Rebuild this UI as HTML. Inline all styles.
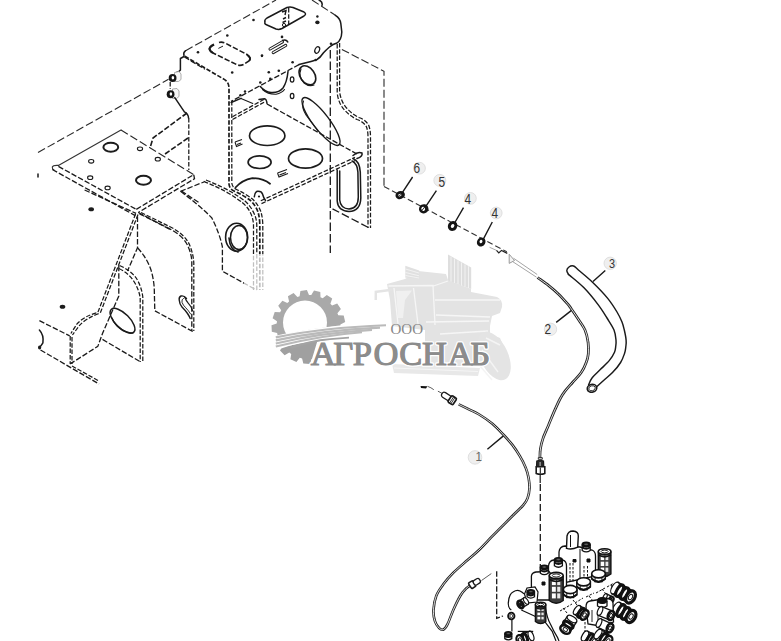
<!DOCTYPE html>
<html><head><meta charset="utf-8">
<style>
html,body{margin:0;padding:0;background:#fff;}
body{width:781px;height:641px;overflow:hidden;position:relative;font-family:"Liberation Sans",sans-serif;}
svg{position:absolute;left:0;top:0;}
.s{fill:none;stroke:#1a1a1a;stroke-width:1.5;stroke-linecap:round;stroke-linejoin:round;}
.d{fill:none;stroke:#1a1a1a;stroke-width:1.3;stroke-dasharray:5.5 2;}
.d2{fill:none;stroke:#1a1a1a;stroke-width:1.25;stroke-dasharray:4.5 1.8;}
.dl{fill:none;stroke:#2a2a2a;stroke-width:1.1;stroke-dasharray:8 3;}
.t{fill:none;stroke:#1c1c1c;stroke-width:0.8;}
.h{fill:#1c1c1c;}
.o{fill:none;stroke:#1c1c1c;stroke-width:1.2;}
</style></head><body>
<svg width="781" height="641" viewBox="0 0 781 641">
<!-- ===== FRAME: top bracket ===== -->
<g id="bracket">
<path class="dl" d="M185.6,50.7 L276,0"/>
<path class="s" d="M185.6,50.7 Q183,52.5 184,55.5"/>
<path class="d2" style="stroke-width:1.7" d="M184.8,56.2 L224.6,79.6 Q229,82.5 229,88 L229,184 Q229.5,189 234,191 Q244,195.5 250.5,200.5 Q256,206 258,212 Q259.8,218 259.8,226 L259.8,290"/>

<path class="d2" d="M231.8,101 L231.8,183 Q232.3,187.5 236.5,189.5 Q246,194 252.5,199 Q258.5,205 260.8,211.5 Q262.8,218 262.8,226 L262.8,290"/>
<!-- top plate right side -->
<path class="dl" d="M312,0 L335.4,15.3"/>
<path class="s" d="M335.4,15.3 Q340,18 340.8,23.3 L341.8,32 Q341.5,40 337,43 Q333,44 329.5,47 Q326,50 323.3,53 Q320,58 317,59.5 Q313,61 311,61.5 L299,64.6"/>
<path class="s" d="M319,0 Q323,2 322,5.4"/>
<path class="d" d="M299,64.6 L231.1,101.4"/>
<path class="s" d="M231.1,102.5 L241,98.4"/>
<!-- slots -->
<path d="M219,42.5 Q222,41.5 226,43.5 L247,54.5 Q251.5,57.5 249,61 L243.5,64.5 Q240,66.2 236.5,64.5 L214,53.5 Q209,51 209.5,48.5 Q210.5,46 214,44.5" fill="none" stroke="#1a1a1a" stroke-width="1.6" stroke-dasharray="5.5 2"/>
<path d="M214,44.5 Q210,46.5 209.5,48.5 Q209.5,51 213,53 M247,55 Q251.5,57.5 249.5,60.5" fill="none" stroke="#1a1a1a" stroke-width="2"/>
<path d="M218.4,48.4 L223,46.1" fill="none" stroke="#1a1a1a" stroke-width="1"/>
<path class="s" d="M265,22 Q264,20 267,18 L287,7.5 Q290,6.5 293,7.5 L304,12 Q307,14 304,16 L282,28.5 Q279,30 276,29 L267,25 Q264,24 265,22 Z"/>
<path class="d2" d="M288.7,8 L288.7,26"/>
<path d="M282,12 L286,10.5 L285,15 M283,19 L286,17.5 M282.5,22.5 L286,21" fill="none" stroke="#1a1a1a" stroke-width="1.4"/>
<circle cx="284" cy="25" r="1.6" fill="none" stroke="#1a1a1a" stroke-width="1"/>
<path d="M270,49 L282.5,41.8 M273.2,52.6 L285.7,45.4" fill="none" stroke="#1a1a1a" stroke-width="3.1" stroke-linecap="round"/>
<path d="M270,49 L282.5,41.8 M273.2,52.6 L285.7,45.4" fill="none" stroke="#fff" stroke-width="1.2" stroke-linecap="round"/>
<path d="M282,40.5 Q286.5,38.8 288,42.5" fill="none" stroke="#1a1a1a" stroke-width="1.6"/>
<!-- holes / dots -->
<g class="h">
<circle cx="198" cy="52.3" r="1.3"/><circle cx="227.3" cy="35.5" r="1.3"/><circle cx="253.5" cy="20" r="1.3"/>
<circle cx="262" cy="55.6" r="1.3"/><circle cx="232.2" cy="72.5" r="1.3"/><circle cx="282" cy="36.9" r="1.3"/>
<circle cx="317.4" cy="16.5" r="1.2"/><ellipse cx="317.4" cy="22.4" rx="2.2" ry="1.8"/>
<circle cx="292.6" cy="62.3" r="1.3"/><circle cx="278.8" cy="70.7" r="1.3"/><circle cx="268.8" cy="72.3" r="1.3"/><circle cx="270.3" cy="78.9" r="1.3"/>
<circle cx="260.3" cy="82.5" r="1.3"/><circle cx="245" cy="91.5" r="1.2"/><circle cx="240.4" cy="95.3" r="1.2"/>
<circle cx="315.7" cy="60" r="1.2"/><circle cx="331" cy="43.8" r="1.3"/><circle cx="261.9" cy="56.1" r="1.1"/>
</g>
<ellipse class="s" cx="292.1" cy="79.5" rx="1.8" ry="2.7" style="stroke-width:1.2"/>
<ellipse class="s" cx="292.1" cy="96" rx="1.8" ry="2.7" style="stroke-width:1.2"/>
<ellipse class="s" cx="317.2" cy="50" rx="2.2" ry="3.4" transform="rotate(25 317.2 50)" style="stroke-width:1.2"/>
<!-- semicircle hole (lower half) -->
<path class="s" d="M260.3,86.5 Q265,92 271,92.5 Q279,93 283,88 Q287,82 288,71.5"/>
<path class="s" d="M262.5,89.5 Q268,94.5 276,94.2 Q282,93 284.5,89.5" style="stroke-width:1.1"/>
<!-- big hole on front face -->
<ellipse class="s" cx="307.4" cy="75.3" rx="7.2" ry="10.4" transform="rotate(-35 307.4 75.3)" style="stroke-width:1.6"/>
<path class="s" d="M301,69 Q298,76 304,83 Q309,87 314,85" style="stroke-width:1.1"/>
<!-- elongated hole -->
<ellipse class="s" cx="321" cy="121.5" rx="29.5" ry="8" transform="rotate(52.5 321 121.5)" style="stroke-width:1.4"/>
<path class="s" d="M303.5,101 Q301,107 306,115 L318,131" style="stroke-width:1.1"/>
<!-- right vertical double line / rear plate outline -->
<path class="d2" d="M337.2,44 L337.2,93 Q338.5,104 345,110.5 Q350,116 357,119.5 Q364,122 366.5,127 Q368,131 368,137 L368,228"/>
<path class="d2" d="M339.6,43 L339.6,92 Q341,102 347,108.5 Q352,114 359,117.5 Q366,120 368.8,125.5 Q370.5,130 370.5,137 L370.5,228"/>
<path class="d" d="M330.3,50 L330.3,253" style="stroke-dasharray:8.5 3"/>
<path class="dl" d="M341.9,49.4 L384,71.3 L384,186.5"/>
<path class="d" d="M368.4,227.5 L332.5,208.8" style="stroke-dasharray:8 3"/>
<path class="s" d="M337.2,170 L337.2,201 Q338,211 349,211.5 Q360.5,211 360.8,198 L360.3,172 Q359.5,161 353,158.5"/>
<path class="s" d="M339.7,171 L339.7,200 Q340.5,208.5 349,209 Q358.3,208.5 358.3,197 L357.9,172 Q357.3,163.5 352,161"/>
<!-- shelf -->
<path class="s" d="M241,98.4 L252.8,103.4" style="stroke-width:1.1"/>
<path class="s" d="M259,99.5 L264.5,98.7 Q266.5,99 267,103.4"/>
<path class="d2" d="M232.5,116.7 L263.75,99.5"/>
<path class="d2" d="M232.5,119.5 L264.5,102"/>
<path class="d" d="M267,104 L357,154"/>
<path class="s" d="M353,155.5 Q358,151 362,153 Q363,156.5 357,158.5"/>
<path class="d2" d="M260.8,200.8 L355,157.4"/>
<path class="d2" d="M261.5,203.6 L356,160.2"/>
<ellipse class="o" cx="267.2" cy="135.7" rx="17.7" ry="9.8" style="stroke-width:1.7"/>
<ellipse class="o" cx="259.6" cy="162.2" rx="11.5" ry="6.3" style="stroke-width:1.7"/>
<ellipse class="o" cx="305.5" cy="158.5" rx="17" ry="9.6" style="stroke-width:1.7"/>
<path class="s" d="M235.5,187.5 Q242,180 252.4,178.1 Q263.6,178.5 270,183.7" style="stroke-width:1.8"/>
<path class="s" d="M254.3,196.8 Q255,191.5 257.6,191.2 Q261.7,191 262.5,194 Q263.6,198 265.5,200.5"/>
<circle cx="259" cy="196.5" r="1.1" fill="#1a1a1a"/>

<path d="M235,142 L242,139.5 M235,142 L236.5,146.5 L242.5,144 M237,144.5 L241,143" fill="none" stroke="#1a1a1a" stroke-width="1.1"/>
<path d="M277.5,173 L287,169.5 M277.5,173 L279,177 L288,173.5 M279.5,175 L286,172.5" fill="none" stroke="#1a1a1a" stroke-width="1.1"/>
</g>

<!-- ===== left nuts and connection ===== -->
<g id="leftnuts">
<path class="dl" d="M38,152.5 L168.5,79.3"/>
<path class="s" d="M184,56.5 L180.4,58.5 L180.4,70 Q179,72 176.5,72.5"/>
<path d="M174.5,72.5 L179,71.5 L181,74 L181,79.5 L178.5,81.5 L174.5,81.5 Z" fill="#f7f7f7" stroke="#999" stroke-width="0.8"/>
<path d="M172.5,89 L177,88.5 L179,91 L179,96.5 L176.5,98.5 L172.5,98.5 Z" fill="#f7f7f7" stroke="#999" stroke-width="0.8"/>
<ellipse cx="172.6" cy="78" rx="3.9" ry="4" fill="#151515"/><ellipse cx="172.9" cy="77.8" rx="1.3" ry="1.7" fill="#fff"/>
<ellipse cx="170.6" cy="94.2" rx="3.9" ry="4" fill="#151515"/><ellipse cx="170.9" cy="94" rx="1.3" ry="1.7" fill="#fff"/>
<path class="d2" d="M170.2,82 L170.2,89"/>
<path class="s" d="M174.8,97.6 L184.4,111.8 Q188.5,114 188.5,118"/>
<path class="d2" d="M188.8,118 L188.8,170"/>
<path class="d" d="M187,113 L153,138 L150,148" style="stroke-width:1.6"/>
<path class="d" d="M188,138 L165,154" style="stroke-width:1.6"/>
<path class="d" d="M184.4,57 L205,69.2"/>
</g>

<!-- ===== left shelf plate ===== -->
<g id="plate">
<path class="s" d="M121,130 L58.4,165.4 Q53,165 52.3,167 Q52,169 54,170" style="stroke-width:1.1;stroke:#333"/>
<path class="dl" d="M121,130 L193.7,174.6"/>
<path class="d" d="M58.4,166.4 L136.3,209.4"/>
<path class="d" d="M52.3,169.5 L135.3,215.6"/>
<path class="d" d="M136.3,209.4 L193.7,174.6 L194.5,178.7 L138.3,212.5"/>
<ellipse class="o" cx="110.8" cy="147.2" rx="7.4" ry="4.5" style="stroke-width:2"/>
<ellipse class="o" cx="143.5" cy="180.3" rx="7.5" ry="4.5" style="stroke-width:2"/>
<g class="s" style="stroke-width:1.1">
<ellipse cx="140" cy="148.8" rx="2.6" ry="1.8"/><ellipse cx="157.8" cy="159.2" rx="2.6" ry="1.8"/>
<ellipse cx="91.2" cy="161.3" rx="2.6" ry="1.8"/><ellipse cx="90.2" cy="177.7" rx="2.6" ry="1.8"/>
<ellipse cx="107.6" cy="187.9" rx="2.6" ry="1.8"/>
</g>
<path class="s" d="M38,174 L38,177"/>
</g>
<g id="frame">
<ellipse class="h" cx="91.2" cy="209.3" rx="2.8" ry="2"/>
<ellipse class="h" cx="62.5" cy="306.8" rx="2.8" ry="2"/>
<!-- beam edges under plate -->
<path class="d" d="M84.6,190 L136.1,213.4"/>
<path class="d" d="M138.3,212.5 L171,230"/>
<path class="d" d="M139.5,213.8 L168.8,228.4 Q184,236 188.3,246.9 Q191.8,255 191.8,262.5 L191.8,331"/>
<path class="d2" d="M141,212.5 L170.5,227 Q186,235 190,246 Q193.5,255 193.8,263 L193.8,331"/>
<path class="d" d="M181.4,191 L200,203.3"/>
<!-- upright A -->
<path class="d2" d="M135.6,213.8 L97.8,312.5 Q84,316 76.8,324.2 L70.9,333.5"/>
<path class="d2" d="M138,214.5 L100.3,313 Q86,318 79,326 L72.5,335"/>
<path class="d" d="M137.5,216.5 L137.5,247.7 L127.5,271"/>
<path class="d" d="M118.8,265.7 L118.8,296 L102.5,333.5 L97.8,346.4 L70.2,363.9"/>
<path class="d2" d="M119.5,265.5 Q131,270.5 136.5,278.5 Q141.5,286.5 142.8,297 L142.8,362"/>
<path class="d2" d="M119,268.5 Q129,273.5 134,281.5 Q139.2,290 140.2,298 L140.2,362"/>
<path class="d" d="M102.5,339.4 L140,361.6"/>
<ellipse class="s" cx="122.5" cy="320.8" rx="16" ry="7.2" transform="rotate(45 122.5 320.8)"/>
<path class="s" d="M112,318 Q118,332 133,333" style="stroke-width:1.2"/>
<!-- upright B inner -->
<path class="d" d="M137.5,247.7 Q147,258 151,270 Q154,280 154.3,290 L154.8,310.8 L192.8,331.5"/>
<path class="s" d="M186.5,298.5 Q184,295.3 181,296 Q178.8,297 179.2,300 Q179.5,304 182,307 Q185,310 187.5,313.5 Q189.5,316.5 190.2,318.5" style="stroke-width:1.4"/>
<path class="s" d="M183.5,298.3 Q181.3,299.5 182,302.3 Q183,305.2 185.8,307.8 Q188.6,310.6 190.6,314" style="stroke-width:0.9"/>
<path class="s" d="M184.8,297.2 Q186,300.5 188.2,303.2 Q191,306 192.6,310.8" style="stroke-width:1.2"/>
<!-- left box -->
<path class="d" d="M39.4,320.7 L69.7,335.9"/>
<path class="d2" d="M70.2,336 L70.2,364"/>
<path class="d2" d="M72,337 L72,364"/>
<path class="s" d="M39.4,330 Q44,335 42.9,342.9 Q41,346 39.4,347.6"/>
<ellipse class="h" cx="39.6" cy="347.5" rx="1.6" ry="2"/>
<path class="d" d="M40.5,350 L99,384"/>
<path class="d2" d="M72,366 L99,381"/>
<!-- upright C -->
<path class="d" d="M180.5,191.3 L203.9,182"/>

<path class="d" d="M180.5,191.3 Q198,204 211.7,217.7 Q219.5,233 222.4,246.9 L222.4,271.3 L256.5,290"/>
<path class="d2" d="M203.7,181.4 Q220,188 228,193 Q238,199 242,202.4 Q247,206.5 249.5,211 Q253.5,218 253.5,226 L253.5,290"/>
<path class="d2" d="M206,180 Q222,186.5 230.5,191.5 Q240.5,197.5 245,201 Q250,205.5 252.5,210.5 Q256.8,217.5 256.8,226 L256.8,290"/>
<ellipse class="s" cx="236.6" cy="237.2" rx="11" ry="14" style="stroke-width:1.6"/>
<ellipse class="s" cx="239" cy="237.5" rx="8.5" ry="12"/>
<path class="s" d="M229,238 Q230,250 238,252" style="stroke-width:1.6"/>
</g>

<g id="logo">
<rect x="244" y="254" width="272" height="133" fill="#fff" opacity="0.72"/>
<defs>
<clipPath id="cup"><path d="M260,250 L400,250 L400,323.5 L385,323.5 Q320,325 276,336.5 L260,342 Z"/></clipPath>
<clipPath id="clow"><path d="M260,349.5 L278,349.5 Q300,342 318,339 L309.5,367 L300,380 L260,380 Z"/></clipPath>
</defs>
<g stroke="none">
<path d="M387,284 L405,279 L418,271 L446,274 L448,280 L471,289 L471,292 L497,297 Q503,300 502,307 L500,313 L492,316 L490,326 L490,334 L500,338 L505,350 L488,366 L425,366 L425,330 L392,326 L390,300 Z" fill="#e3e3e3"/>
<path d="M448,254.6 L471.2,267.6 L471.2,289 L448,280.6 Z" fill="#dedede"/>
<path d="M451,256.5 L451,281.5 M454.5,258.5 L454.5,283 M458,260.5 L458,284.2 M461.5,262.5 L461.5,285.5 M465,264.5 L465,286.8 M468.5,266.2 L468.5,288" stroke="#f2f2f2" stroke-width="1"/>
<path d="M405.3,265.8 L419.2,270.4 L419,278.5 L405.3,277.8 Z" fill="#e0e0e0"/>
<path d="M405.5,269 L419,273 M405.5,272.5 L419,275.8 M405.5,275.5 L419,278" stroke="#f4f4f4" stroke-width="0.9"/>
<path d="M374.6,290.8 L392,288.5 L392,291 L377,293 L377,300 L374.5,300 Z" fill="#e4e4e4"/>
<path d="M388.5,286 L433,285.5 L435,325 M394,288 L398,324 M413.5,288 L418,324 M433.5,286 L448,281 M435,300 L500,300 M436,315 L490,317 M426,322 L489,321 M440,334 L488,331" stroke="#f6f6f6" stroke-width="1.3" fill="none"/>
<path d="M396,291 L412,290.5 L405,300 L403,318 L398,318 Z" fill="#f0f0f0"/>
<ellipse cx="494" cy="356" rx="14" ry="26" fill="#e4e4e4" transform="rotate(-25 494 356)"/>
<path d="M486,338 L500,345 M482,350 L498,372 M480,366 L492,380" stroke="#f4f4f4" stroke-width="1.4"/>
<path d="M392,364 L480,368 L478,376 L394,373 Z" fill="#e8e8e8"/>
<path d="M394,368 L478,371.5" stroke="#f6f6f6" stroke-width="1"/>
</g>
<g clip-path="url(#cup)"><path d="M299.6,296.3 L300.4,290.9 L306.9,290.0 L309.0,295.0 L311.3,295.1 L314.0,290.4 L320.3,291.9 L320.5,297.3 L322.7,298.3 L326.8,294.9 L332.2,298.6 L330.4,303.7 L332.1,305.4 L337.2,303.6 L340.9,309.1 L337.4,313.2 L338.3,315.3 L343.7,315.6 L345.2,322.0 L340.4,324.5 L340.5,326.9 L345.4,329.1 L344.5,335.6 L339.1,336.2 L338.4,338.5 L342.2,342.3 L339.0,348.0 L333.7,346.7 L332.2,348.5 L334.4,353.4 L329.3,357.6 L324.9,354.5 L322.9,355.6 L323.1,361.0 L316.9,363.0 L313.9,358.5 L311.6,358.9 L309.9,364.0 L303.3,363.6 L302.1,358.4 L299.8,357.8 L296.4,362.0 L290.4,359.3 L291.2,353.9 L289.3,352.6 L284.6,355.2 L280.0,350.6 L282.7,345.9 L281.3,343.9 L276.0,344.7 L273.4,338.7 L277.6,335.3 L277.1,333.0 L271.8,331.8 L271.5,325.2 L276.7,323.6 L277.0,321.2 L272.6,318.2 L274.7,312.0 L280.1,312.3 L281.2,310.2 L278.2,305.8 L282.4,300.8 L287.3,303.0 L289.1,301.5 L287.9,296.3 L293.6,293.1 L297.4,297.0 Z" fill="#a9a9a9"/><circle cx="305" cy="322.5" r="22" fill="#fff"/></g>
<g clip-path="url(#clow)"><path d="M299.6,296.3 L300.4,290.9 L306.9,290.0 L309.0,295.0 L311.3,295.1 L314.0,290.4 L320.3,291.9 L320.5,297.3 L322.7,298.3 L326.8,294.9 L332.2,298.6 L330.4,303.7 L332.1,305.4 L337.2,303.6 L340.9,309.1 L337.4,313.2 L338.3,315.3 L343.7,315.6 L345.2,322.0 L340.4,324.5 L340.5,326.9 L345.4,329.1 L344.5,335.6 L339.1,336.2 L338.4,338.5 L342.2,342.3 L339.0,348.0 L333.7,346.7 L332.2,348.5 L334.4,353.4 L329.3,357.6 L324.9,354.5 L322.9,355.6 L323.1,361.0 L316.9,363.0 L313.9,358.5 L311.6,358.9 L309.9,364.0 L303.3,363.6 L302.1,358.4 L299.8,357.8 L296.4,362.0 L290.4,359.3 L291.2,353.9 L289.3,352.6 L284.6,355.2 L280.0,350.6 L282.7,345.9 L281.3,343.9 L276.0,344.7 L273.4,338.7 L277.6,335.3 L277.1,333.0 L271.8,331.8 L271.5,325.2 L276.7,323.6 L277.0,321.2 L272.6,318.2 L274.7,312.0 L280.1,312.3 L281.2,310.2 L278.2,305.8 L282.4,300.8 L287.3,303.0 L289.1,301.5 L287.9,296.3 L293.6,293.1 L297.4,297.0 Z" fill="#a0a0a0"/></g>
<path d="M273.5,342.6 Q322,331.2 386,328.2" fill="none" stroke="#fff" stroke-width="12.5"/>
<path d="M290,347 Q310,339.8 330,338.3 L349,336.8 L349,338.6 L330,340.1 Q312,341.8 292,349 Z" fill="#a3a3a3"/>
<path d="M275.8,337.4 Q322,327.6 386,325.2" fill="none" stroke="#bababa" stroke-width="2.1"/>
<path d="M275.8,340.4 Q322,330.2 380,327.6" fill="none" stroke="#bababa" stroke-width="2.1"/>
<path d="M275.8,343.4 Q322,332.7 372,329.9" fill="none" stroke="#bababa" stroke-width="2.1"/>
<path d="M275.8,346.4 Q322,335.2 362,332.2" fill="none" stroke="#bababa" stroke-width="2.1"/>
<text y="364.9" font-family="Liberation Serif, serif" font-size="34.5" fill="#8c8c8c" stroke="#fff" stroke-width="3.6" paint-order="stroke" stroke-linejoin="round"><tspan x="310.8">А</tspan><tspan x="333.2">Г</tspan><tspan x="352.8">Р</tspan><tspan x="373.4">О</tspan><tspan x="399.2">С</tspan><tspan x="421.9">Н</tspan><tspan x="447.8">А</tspan><tspan x="470.3">Б</tspan></text>
<text y="364.9" font-family="Liberation Serif, serif" font-size="34.5" fill="#8c8c8c" stroke="#8c8c8c" stroke-width="1.1"><tspan x="310.8">А</tspan><tspan x="333.2">Г</tspan><tspan x="352.8">Р</tspan><tspan x="373.4">О</tspan><tspan x="399.2">С</tspan><tspan x="421.9">Н</tspan><tspan x="447.8">А</tspan><tspan x="470.3">Б</tspan></text>
<text x="390.5" y="333.6" font-family="Liberation Serif, serif" font-size="15" fill="#878787">ООО</text>
</g>
<!--LOGOEND-->
<!-- ===== nuts ===== -->
<g id="nuts">
<path d="M384,186.5 L506.8,251.8" fill="none" stroke="#333" stroke-width="1.1" stroke-dasharray="6 3"/>
<path d="M402,193.2 L412.6,177 M425,207.6 L436.4,190.6 M454,224 L463.5,207.6 M482.7,240.3 L492.3,222 M571.2,310.6 L556.2,322.4 M593,281.5 L605.3,270.4 M503.7,435.6 L487.4,449.3" fill="none" stroke="#1a1a1a" stroke-width="1.4"/>
<ellipse cx="400.2" cy="195.1" rx="4.8" ry="4" fill="#151515" transform="rotate(-20 400.2 195.1)"/>
<ellipse cx="399.8" cy="195.2" rx="1.8" ry="1.2" fill="#fff" transform="rotate(-20 399.8 195.2)"/>
<path d="M397,197 L402.5,193.5" stroke="#151515" stroke-width="0.8"/>
<ellipse cx="423.7" cy="208.8" rx="4.8" ry="4.6" fill="#151515" transform="rotate(-30 423.7 208.8)"/>
<ellipse cx="423.2" cy="208.9" rx="1.8" ry="2.1" fill="#fff" transform="rotate(-30 423.2 208.9)"/>
<path d="M421.5,211 L425,206.5" stroke="#151515" stroke-width="0.9"/>
<ellipse cx="452.6" cy="226" rx="3.1" ry="3.6" fill="#fff" stroke="#151515" stroke-width="3" transform="rotate(35 452.6 226)"/>
<ellipse cx="481.2" cy="242" rx="4.2" ry="4.7" fill="#151515" transform="rotate(30 481.2 242)"/>
<ellipse cx="481" cy="241.5" rx="1.4" ry="1.7" fill="#fff" transform="rotate(30 481 241.5)"/>
</g>
<g id="balloons" font-family="Liberation Sans, sans-serif" font-size="14.5" fill="#333">
<g fill="#efefef" stroke="#d6d6d6" stroke-width="0.7">
<circle cx="419.5" cy="168.2" r="5.9"/>
<circle cx="439.8" cy="180.4" r="6"/>
<circle cx="470.4" cy="198.4" r="5.9"/>
<circle cx="496.2" cy="213" r="5.9"/>
<circle cx="550.5" cy="329.3" r="6.2"/>
<circle cx="610.2" cy="263.3" r="6.2"/>
<circle cx="475" cy="457.4" r="6.8"/>
</g>
<text transform="translate(413.4 172.6) scale(0.82 1)">6</text>
<text transform="translate(438.6 187) scale(0.82 1)">5</text>
<text transform="translate(464.6 204) scale(0.82 1)">4</text>
<text transform="translate(491.4 218) scale(0.82 1)">4</text>
<text transform="translate(544.6 334.2) scale(0.82 1)">2</text>
<text transform="translate(609 267.8) scale(0.75 0.85)">3</text>
<text transform="translate(475.6 461.2) scale(0.8 0.85)" fill="#666">1</text>
</g>

<!-- ===== cable 2 ===== -->
<g id="cable2">
<path d="M489.6,247.3 L496.5,250.4" fill="none" stroke="#aaa" stroke-width="1"/>
<path d="M496.5,250.4 L498.8,253 L501.5,250.4 L507.3,253.4" fill="none" stroke="#222" stroke-width="1.2"/>
<path d="M509.2,254.2 L509.2,263.4 L514.5,260.5 Z" fill="#f4f4f4" stroke="#999" stroke-width="1"/>
<path d="M513.5,258.2 L537.2,274.5 M512.5,261.5 L536.5,277.2" fill="none" stroke="#9a9a9a" stroke-width="0.9"/>
<path d="M537.5,277.5 C539.4,278.9 545.3,282.9 548.7,285.6 C552.1,288.3 555.0,290.7 558.1,293.7 C561.2,296.7 565.2,301.2 567.4,303.7 C569.6,306.2 569.3,306.0 571.2,308.7 C573.1,311.4 576.5,316.4 578.8,320.0 C581.0,323.6 583.4,326.2 585.0,330.0 C586.6,333.8 587.6,338.5 588.1,342.5 C588.6,346.5 588.6,350.5 588.3,353.8 C588.0,357.1 587.4,359.4 586.2,362.5 C585.1,365.6 583.5,369.2 581.2,372.5 C579.0,375.8 575.2,379.4 572.5,382.5 C569.8,385.6 567.1,388.5 565.0,391.2 C562.9,394.0 561.8,395.6 560.0,399.0 C558.2,402.4 555.9,407.6 554.0,411.9 C552.1,416.2 550.4,420.6 548.6,425.0 C546.8,429.4 544.5,434.1 543.1,438.1 C541.7,442.1 540.9,445.8 540.4,449.0 C539.9,452.2 540.0,456.2 539.9,457.6" fill="none" stroke="#222" stroke-width="2.7"/>
<path d="M537.5,277.5 C539.4,278.9 545.3,282.9 548.7,285.6 C552.1,288.3 555.0,290.7 558.1,293.7 C561.2,296.7 565.2,301.2 567.4,303.7 C569.6,306.2 569.3,306.0 571.2,308.7 C573.1,311.4 576.5,316.4 578.8,320.0 C581.0,323.6 583.4,326.2 585.0,330.0 C586.6,333.8 587.6,338.5 588.1,342.5 C588.6,346.5 588.6,350.5 588.3,353.8 C588.0,357.1 587.4,359.4 586.2,362.5 C585.1,365.6 583.5,369.2 581.2,372.5 C579.0,375.8 575.2,379.4 572.5,382.5 C569.8,385.6 567.1,388.5 565.0,391.2 C562.9,394.0 561.8,395.6 560.0,399.0 C558.2,402.4 555.9,407.6 554.0,411.9 C552.1,416.2 550.4,420.6 548.6,425.0 C546.8,429.4 544.5,434.1 543.1,438.1 C541.7,442.1 540.9,445.8 540.4,449.0 C539.9,452.2 540.0,456.2 539.9,457.6" fill="none" stroke="#fff" stroke-width="0.85"/>
<path d="M538.3,457.6 L542.3,457.6 L542.3,459.3 L538.3,459.3 Z" fill="#fff" stroke="#1a1a1a" stroke-width="0.9"/>
<path d="M536.8,461 Q540,459.5 543.5,461 L543.8,466.8 L536.5,466.8 Z" fill="#2a2a2a" stroke="#1a1a1a" stroke-width="1.2"/>
<path d="M539.3,462 L541,462 L541,466 L539.3,466 Z" fill="#888"/>
<path d="M536.2,466.8 L544.8,466.8 L544.8,473.4 Q540.5,475 536.2,473.4 Z" fill="#fff" stroke="#1a1a1a" stroke-width="1.6"/>
<path d="M540.3,467.5 L540.3,473.8" stroke="#1a1a1a" stroke-width="1.1"/>
<path d="M540.2,474 L540.2,483" stroke="#1a1a1a" stroke-width="1.2"/>
<path class="d" d="M540.3,484 L540.3,592" style="stroke-dasharray:7 3"/>
</g>

<!-- ===== hose 3 ===== -->
<g id="hose">
<path class="s" d="M568.5,274.5 C568.2,273.8 566.7,271.8 566.8,270.5 C566.9,269.2 567.9,267.8 569.0,267.0 C570.1,266.2 571.9,265.5 573.5,266.0 C575.1,266.5 575.2,267.3 578.4,270.0 C581.6,272.7 587.6,277.5 592.5,282.2 C597.4,286.9 603.4,293.1 607.5,298.1 C611.6,303.1 614.6,308.0 617.0,312.0 C619.4,316.0 620.8,319.0 622.0,322.0 C623.2,325.0 623.6,327.0 624.3,330.0 C625.0,333.0 625.9,337.3 626.1,340.1 C626.4,342.9 626.0,344.8 625.8,347.0 C625.5,349.2 625.5,350.7 624.6,353.3 C623.7,355.9 622.6,359.3 620.6,362.5 C618.6,365.7 615.4,369.6 612.5,372.6 C609.6,375.6 605.9,378.3 603.3,380.7 C600.7,383.1 597.8,385.8 596.7,386.8" style="stroke-width:1.45"/>
<path class="s" d="M568.5,274.5 C568.8,274.7 567.4,273.4 570.0,275.6 C572.6,277.8 579.3,283.0 584.0,287.8 C588.7,292.6 594.3,299.6 598.1,304.6 C601.9,309.6 604.4,313.8 607.0,318.0 C609.6,322.2 612.5,326.3 614.0,330.0 C615.5,333.7 615.7,337.4 616.0,340.1 C616.3,342.9 616.0,344.5 615.7,346.5 C615.5,348.5 615.5,350.0 614.5,352.3 C613.5,354.6 611.8,357.5 609.4,360.4 C607.0,363.3 603.2,366.7 600.3,369.6 C597.4,372.5 594.2,375.2 592.2,377.7 C590.2,380.2 589.2,383.6 588.6,384.8" style="stroke-width:1.45"/>
<ellipse cx="592" cy="388.3" rx="4.8" ry="3.9" transform="rotate(-15 592 388.3)" fill="#fff" stroke="#1a1a1a" stroke-width="1.6"/>
<ellipse cx="592" cy="388.3" rx="3.3" ry="2.5" transform="rotate(-15 592 388.3)" fill="none" stroke="#1a1a1a" stroke-width="0.9"/>
</g>

<!-- ===== cable 1 ===== -->
<g id="cable1">
<path d="M420.5,386 L427.5,386.2 L426,388.4 L421,388 Z" fill="#111"/>
<path d="M427.7,386.4 Q431,387.5 433.8,389.7 M437.9,391.2 L442,393.3" fill="none" stroke="#333" stroke-width="0.8"/>
<g transform="translate(442 393.6) rotate(33)">
<rect x="0" y="-2.7" width="10.5" height="5.4" rx="2.4" fill="#fff" stroke="#1a1a1a" stroke-width="1.3"/>
<rect x="9.2" y="-3.8" width="6" height="7.6" rx="1.2" fill="#fff" stroke="#1a1a1a" stroke-width="1.7"/>
<path d="M11.5,-3.6 L11.5,3.6 M13,-3.6 L13,3.6" stroke="#1a1a1a" stroke-width="0.8"/>
</g>
<path d="M458.7,404.4 C460.2,405.1 463.9,406.9 467.5,408.7 C471.1,410.5 475.9,412.5 480.0,415.0 C484.1,417.5 488.4,420.4 492.4,423.7 C496.3,427.0 500.4,431.5 503.7,435.0 C507.0,438.5 509.7,441.4 512.4,444.9 C515.1,448.4 517.7,452.4 519.9,456.2 C522.1,459.9 524.1,463.8 525.6,467.4 C527.1,471.0 528.0,474.5 528.6,478.0 C529.2,481.5 529.7,484.9 529.5,488.3 C529.3,491.7 528.6,495.3 527.6,498.1 C526.6,500.9 525.4,502.5 523.3,505.1 C521.2,507.7 517.9,510.5 514.9,513.5 C511.9,516.5 509.1,519.3 505.1,523.3 C501.1,527.3 495.5,532.9 491.1,537.4 C486.8,541.9 482.9,546.2 479.0,550.0 C475.1,553.8 471.9,556.2 467.6,560.0 C463.3,563.8 457.4,568.7 453.4,572.7 C449.4,576.7 446.3,580.3 443.5,584.1 C440.7,587.9 438.1,591.2 436.4,595.5 C434.7,599.8 433.8,605.5 433.5,609.7 C433.2,614.0 433.9,617.9 434.9,621.0 C435.8,624.1 437.8,626.7 439.2,628.1 C440.6,629.5 442.1,630.2 443.5,629.5 C444.9,628.8 446.1,627.2 447.7,623.9 C449.3,620.6 451.3,614.4 453.4,609.7 C455.5,605.0 458.4,599.0 460.5,595.5 C462.6,592.0 464.5,590.1 466.2,588.4 C467.9,586.7 469.8,585.8 470.5,585.3" fill="none" stroke="#222" stroke-width="2.6"/>
<path d="M458.7,404.4 C460.2,405.1 463.9,406.9 467.5,408.7 C471.1,410.5 475.9,412.5 480.0,415.0 C484.1,417.5 488.4,420.4 492.4,423.7 C496.3,427.0 500.4,431.5 503.7,435.0 C507.0,438.5 509.7,441.4 512.4,444.9 C515.1,448.4 517.7,452.4 519.9,456.2 C522.1,459.9 524.1,463.8 525.6,467.4 C527.1,471.0 528.0,474.5 528.6,478.0 C529.2,481.5 529.7,484.9 529.5,488.3 C529.3,491.7 528.6,495.3 527.6,498.1 C526.6,500.9 525.4,502.5 523.3,505.1 C521.2,507.7 517.9,510.5 514.9,513.5 C511.9,516.5 509.1,519.3 505.1,523.3 C501.1,527.3 495.5,532.9 491.1,537.4 C486.8,541.9 482.9,546.2 479.0,550.0 C475.1,553.8 471.9,556.2 467.6,560.0 C463.3,563.8 457.4,568.7 453.4,572.7 C449.4,576.7 446.3,580.3 443.5,584.1 C440.7,587.9 438.1,591.2 436.4,595.5 C434.7,599.8 433.8,605.5 433.5,609.7 C433.2,614.0 433.9,617.9 434.9,621.0 C435.8,624.1 437.8,626.7 439.2,628.1 C440.6,629.5 442.1,630.2 443.5,629.5 C444.9,628.8 446.1,627.2 447.7,623.9 C449.3,620.6 451.3,614.4 453.4,609.7 C455.5,605.0 458.4,599.0 460.5,595.5 C462.6,592.0 464.5,590.1 466.2,588.4 C467.9,586.7 469.8,585.8 470.5,585.3" fill="none" stroke="#fff" stroke-width="0.85"/>
<g transform="translate(470 586) rotate(-32)">
<rect x="0" y="-3.3" width="5" height="6.6" rx="1" fill="#fff" stroke="#1a1a1a" stroke-width="1.6"/>
<rect x="4.5" y="-2.6" width="7" height="5.2" rx="2" fill="#fff" stroke="#1a1a1a" stroke-width="1.3"/>
</g>
<path d="M481.5,580.5 L491.3,573.6" fill="none" stroke="#333" stroke-width="0.8"/>
<path class="d" d="M496.7,571.3 L496.7,618.4 L503,616"/>
</g>
<g id="valve"><path d="M559,584 L559,552 Q559.5,546.5 565,546 L580,547 L592,550 Q595.5,551.5 595.5,556 L595.5,576 L559,584 Z" fill="#fff" stroke="#111" stroke-width="1.3"/>
<path d="M580,549 L580,580" fill="none" stroke="#111" stroke-width="1.0"/>
<path d="M566.5,548.4 L567,536 Q568,531 573,531 Q578.5,531.5 578.3,536 L577.7,547.2 Q572,550 566.5,548.4 Z" fill="#fff" stroke="#111" stroke-width="1.4"/>
<path d="M570.5,535 L570.5,547" fill="none" stroke="#111" stroke-width="1.0"/>
<path d="M582.2,544.5 L582.2,550.5 Q586.2,553.36 590.2,550.5 L590.2,544.5" fill="#fff" stroke="#111" stroke-width="1.3"/>
<ellipse cx="586.2" cy="544.5" rx="4.0" ry="2.2" fill="#111" stroke="#111" stroke-width="1.4"/>
<ellipse cx="586.2" cy="544.3" rx="2.2" ry="1.0" fill="#666" stroke="#111" stroke-width="0.5"/>
<path d="M582.2,547.2 Q586.2,550.0600000000001 590.2,547.2" fill="none" stroke="#111" stroke-width="2.0"/>
<path d="M573,559.5 L576,559.5 L576,562 L573,562 Z" fill="#111" stroke="#111" stroke-width="1.0"/>
<path d="M587,559 L590,559 L590,562 L587,562 Z" fill="#111" stroke="#111" stroke-width="1.0"/>
<path d="M570,563 L570,582 M573,563 L573,582 M584,566 L584,578 M587.5,566 L587.5,578" fill="none" stroke="#111" stroke-width="1.0" stroke-dasharray="2.5 1.5"/>
<path d="M598.3000000000001,551.5 L598.3000000000001,574 Q604.6,579.103 610.9,574 L610.9,551.5" fill="#3c3c3c" stroke="#111" stroke-width="1.4"/>
<rect x="600.7" y="555.8" width="3.5" height="4.3" fill="#fff"/>
<rect x="605.5" y="555.8" width="2.8" height="4.3" fill="#e8e8e8"/>
<rect x="600.7" y="561.7" width="3.5" height="4.3" fill="#fff"/>
<rect x="605.5" y="561.7" width="2.8" height="4.3" fill="#e8e8e8"/>
<rect x="600.7" y="567.6" width="3.5" height="4.3" fill="#fff"/>
<rect x="605.5" y="567.6" width="2.8" height="4.3" fill="#e8e8e8"/>
<ellipse cx="604.6" cy="551.5" rx="6.3" ry="2.8" fill="#fff" stroke="#111" stroke-width="1.6"/>
<ellipse cx="604.6" cy="551.5" rx="3.5" ry="1.4" fill="none" stroke="#111" stroke-width="1.0"/>
<path d="M598.3000000000001,554.902 Q604.6,558.871 610.9,554.902" fill="none" stroke="#111" stroke-width="1.6"/>
<path d="M548.5,590 L548.5,566 Q549,560.5 554,560 L563,560 Q566.5,561 566.5,566 L566.5,588 Z" fill="#fff" stroke="#111" stroke-width="1.3"/>
<path d="M554.4,559.8 L554.4,565.8 Q558.4,568.66 562.4,565.8 L562.4,559.8" fill="#fff" stroke="#111" stroke-width="1.3"/>
<ellipse cx="558.4" cy="559.8" rx="4.0" ry="2.2" fill="#111" stroke="#111" stroke-width="1.4"/>
<ellipse cx="558.4" cy="559.6" rx="2.2" ry="1.0" fill="#666" stroke="#111" stroke-width="0.5"/>
<path d="M554.4,562.5 Q558.4,565.36 562.4,562.5" fill="none" stroke="#111" stroke-width="2.0"/>
<path d="M531.4,600 L531.4,576 Q532,572.5 536,572 L549,571.5 L551,574 L551,600 Z" fill="#fff" stroke="#111" stroke-width="1.3"/>
<path d="M540.4,567.3 L540.4,573.3 Q544.3,576.0885 548.1999999999999,573.3 L548.1999999999999,567.3" fill="#fff" stroke="#111" stroke-width="1.3"/>
<ellipse cx="544.3" cy="567.3" rx="3.9" ry="2.1" fill="#111" stroke="#111" stroke-width="1.4"/>
<ellipse cx="544.3" cy="567.1" rx="2.1" ry="1.0" fill="#666" stroke="#111" stroke-width="0.5"/>
<path d="M540.4,570.0 Q544.3,572.7885 548.1999999999999,570.0" fill="none" stroke="#111" stroke-width="2.0"/>
<path d="M542,582 L545,582 L545,585 L542,585 Z" fill="#111" stroke="#111" stroke-width="1.0"/>
<path d="M549.2,575.5 L549.2,600.5 Q556.2,606.17 563.2,600.5 L563.2,575.5" fill="#3c3c3c" stroke="#111" stroke-width="1.4"/>
<rect x="551.9" y="580.1" width="3.9" height="5.0" fill="#fff"/>
<rect x="557.2" y="580.1" width="3.1" height="5.0" fill="#e8e8e8"/>
<rect x="551.9" y="586.8" width="3.9" height="5.0" fill="#fff"/>
<rect x="557.2" y="586.8" width="3.1" height="5.0" fill="#e8e8e8"/>
<rect x="551.9" y="593.4" width="3.9" height="5.0" fill="#fff"/>
<rect x="557.2" y="593.4" width="3.1" height="5.0" fill="#e8e8e8"/>
<ellipse cx="556.2" cy="575.5" rx="7.0" ry="3.1" fill="#fff" stroke="#111" stroke-width="1.6"/>
<ellipse cx="556.2" cy="575.5" rx="3.9" ry="1.6" fill="none" stroke="#111" stroke-width="1.0"/>
<path d="M549.2,579.28 Q556.2,583.69 563.2,579.28" fill="none" stroke="#111" stroke-width="1.6"/>
<path d="M591.7,573.8 L591.7,578.8 Q598.5,584.92 605.3,578.8 L605.3,573.8" fill="#fff" stroke="#111" stroke-width="1.5"/>
<ellipse cx="598.5" cy="573.8" rx="6.8" ry="4.1" fill="#fff" stroke="#111" stroke-width="1.6"/>
<path d="M595.1,577.3496 L595.1,582.472 M601.9,577.3496 L601.9,582.472" fill="none" stroke="#111" stroke-width="1.0"/>
<path d="M591.7,578.8 Q598.5,584.92 605.3,578.8" fill="none" stroke="#111" stroke-width="2.0"/>
<path d="M576.8000000000001,581.8 L576.8000000000001,586.8 Q583.6,592.92 590.4,586.8 L590.4,581.8" fill="#fff" stroke="#111" stroke-width="1.5"/>
<ellipse cx="583.6" cy="581.8" rx="6.8" ry="4.1" fill="#fff" stroke="#111" stroke-width="1.6"/>
<path d="M580.2,585.3496 L580.2,590.472 M587.0,585.3496 L587.0,590.472" fill="none" stroke="#111" stroke-width="1.0"/>
<path d="M576.8000000000001,586.8 Q583.6,592.92 590.4,586.8" fill="none" stroke="#111" stroke-width="2.0"/>
<path d="M563.4000000000001,589.5 L563.4000000000001,594.5 Q570.2,600.62 577.0,594.5 L577.0,589.5" fill="#fff" stroke="#111" stroke-width="1.5"/>
<ellipse cx="570.2" cy="589.5" rx="6.8" ry="4.1" fill="#fff" stroke="#111" stroke-width="1.6"/>
<path d="M566.8000000000001,593.0496 L566.8000000000001,598.172 M573.6,593.0496 L573.6,598.172" fill="none" stroke="#111" stroke-width="1.0"/>
<path d="M563.4000000000001,594.5 Q570.2,600.62 577.0,594.5" fill="none" stroke="#111" stroke-width="2.0"/>
<path d="M524.5,594 L527,588 L535,587 L538,592 L537,602 L527,603 Z" fill="#fff" stroke="#111" stroke-width="1.2"/>
<path d="M527.0999999999999,591.8 L527.0999999999999,596.8 Q530.8,599.4454999999999 534.5,596.8 L534.5,591.8" fill="#fff" stroke="#111" stroke-width="1.3"/>
<ellipse cx="530.8" cy="591.8" rx="3.7" ry="2.0" fill="#111" stroke="#111" stroke-width="1.4"/>
<ellipse cx="530.8" cy="591.6" rx="2.0" ry="0.9" fill="#666" stroke="#111" stroke-width="0.5"/>
<path d="M527.0999999999999,594.05 Q530.8,596.6954999999999 534.5,594.05" fill="none" stroke="#111" stroke-width="2.0"/>
<path d="M508.3,603 Q509,594 513,592 Q517,589.5 520,591 Q523,592.5 524,594" fill="none" stroke="#111" stroke-width="1.3"/>
<path d="M508.3,603 Q508,608 511.3,610" fill="none" stroke="#111" stroke-width="1.2"/>
<path d="M521.3,610 L534.4,616 L545,622 L552.2,631.4 L556,641" fill="none" stroke="#111" stroke-width="1.2"/>
<path d="M511.9,619.5 L511.9,631.4" fill="none" stroke="#111" stroke-width="1.2"/>
<path d="M545.2,606.8 Q547,618 550.5,624.3 Q554,632 557.5,637.4 L559,641" fill="none" stroke="#111" stroke-width="1.2"/>
<path d="M524.0,597.8 L518.5,601.3 L522.5,607.7 L528.0,604.2 Z" fill="#fff" stroke="#111" stroke-width="1.3"/>
<ellipse cx="526.0" cy="601.0" rx="1.9" ry="3.8" fill="#fff" stroke="#111" stroke-width="1.2" transform="rotate(147.5 526.0 601.0)"/>
<ellipse cx="520.5" cy="604.5" rx="2.5" ry="3.8" fill="#fff" stroke="#111" stroke-width="2.8" transform="rotate(147.5 520.5 604.5)"/>
<ellipse cx="520.5" cy="604.5" rx="1.1" ry="1.7" fill="#111" stroke="#111" stroke-width="1.0" transform="rotate(147.5 520.5 604.5)"/>
<ellipse cx="511.3" cy="616.0" rx="3.2" ry="3.4" fill="#fff" stroke="#111" stroke-width="1.8"/>
<ellipse cx="511.3" cy="616.0" rx="1.5" ry="1.6" fill="none" stroke="#111" stroke-width="0.8"/>
<path d="M535.4,604.5 L535.4,621.5 Q540.6,625.712 545.8000000000001,621.5 L545.8000000000001,604.5" fill="#3c3c3c" stroke="#111" stroke-width="1.4"/>
<rect x="537.4" y="608.3" width="2.9" height="2.6" fill="#fff"/>
<rect x="541.4" y="608.3" width="2.3" height="2.6" fill="#e8e8e8"/>
<rect x="537.4" y="612.6" width="2.9" height="2.6" fill="#fff"/>
<rect x="541.4" y="612.6" width="2.3" height="2.6" fill="#e8e8e8"/>
<rect x="537.4" y="616.8" width="2.9" height="2.6" fill="#fff"/>
<rect x="541.4" y="616.8" width="2.3" height="2.6" fill="#e8e8e8"/>
<ellipse cx="540.6" cy="604.5" rx="5.2" ry="2.3" fill="#fff" stroke="#111" stroke-width="1.6"/>
<ellipse cx="540.6" cy="604.5" rx="2.9" ry="1.2" fill="none" stroke="#111" stroke-width="1.0"/>
<path d="M535.4,607.308 Q540.6,610.584 545.8000000000001,607.308" fill="none" stroke="#111" stroke-width="1.6"/>
<path d="M575,603 L583,598 M586,597 L594,593 M560,611 L572,604 M596,593 L605,588 M607,587 L614,583" fill="none" stroke="#111" stroke-width="1.0" stroke-dasharray="2.5 1.5"/>
<path d="M563,608 L567,613 M573,600 L577,605 M589,596 L593,601 M602,589 L606,594 M611,585 L614,590" fill="none" stroke="#111" stroke-width="1.0" stroke-dasharray="2.5 1.5"/>
<path d="M596,606 L596,620 M604,612 L604,626 M585,622 L585,636" fill="none" stroke="#111" stroke-width="1.0" stroke-dasharray="2.5 1.5"/>
<path d="M611.7,593.6 L627.2,602.6 L633.8,591.4 L618.3,582.4 Z" fill="#fff" stroke="#111" stroke-width="1.3"/>
<ellipse cx="615.0" cy="588.0" rx="3.2" ry="6.5" fill="#fff" stroke="#111" stroke-width="1.2" transform="rotate(30.1 615.0 588.0)"/>
<ellipse cx="619.6" cy="590.7" rx="2.7" ry="6.5" fill="none" stroke="#111" stroke-width="3.0" transform="rotate(30.1 619.6 590.7)"/>
<ellipse cx="624.6" cy="593.6" rx="2.7" ry="6.5" fill="none" stroke="#111" stroke-width="3.0" transform="rotate(30.1 624.6 593.6)"/>
<ellipse cx="630.5" cy="597.0" rx="4.3" ry="6.5" fill="#fff" stroke="#111" stroke-width="3.2" transform="rotate(30.1 630.5 597.0)"/>
<ellipse cx="630.5" cy="597.0" rx="1.9" ry="2.9" fill="#fff" stroke="#111" stroke-width="1.0" transform="rotate(30.1 630.5 597.0)"/>
<path d="M613.2,613.6 L627.7,622.1 L634.3,610.9 L619.8,602.4 Z" fill="#fff" stroke="#111" stroke-width="1.3"/>
<ellipse cx="616.5" cy="608.0" rx="3.2" ry="6.5" fill="#fff" stroke="#111" stroke-width="1.2" transform="rotate(30.4 616.5 608.0)"/>
<ellipse cx="620.9" cy="610.5" rx="2.7" ry="6.5" fill="none" stroke="#111" stroke-width="3.0" transform="rotate(30.4 620.9 610.5)"/>
<ellipse cx="625.5" cy="613.3" rx="2.7" ry="6.5" fill="none" stroke="#111" stroke-width="3.0" transform="rotate(30.4 625.5 613.3)"/>
<ellipse cx="631.0" cy="616.5" rx="4.3" ry="6.5" fill="#fff" stroke="#111" stroke-width="3.2" transform="rotate(30.4 631.0 616.5)"/>
<ellipse cx="631.0" cy="616.5" rx="1.9" ry="2.9" fill="#fff" stroke="#111" stroke-width="1.0" transform="rotate(30.4 631.0 616.5)"/>
<path d="M603.4,600.1 L609.4,603.1 L612.6,596.9 L606.6,593.9 Z" fill="#fff" stroke="#111" stroke-width="1.3"/>
<ellipse cx="605.0" cy="597.0" rx="1.8" ry="3.5" fill="#fff" stroke="#111" stroke-width="1.2" transform="rotate(26.6 605.0 597.0)"/>
<ellipse cx="611.0" cy="600.0" rx="2.3" ry="3.5" fill="#fff" stroke="#111" stroke-width="2.2" transform="rotate(26.6 611.0 600.0)"/>
<ellipse cx="611.0" cy="600.0" rx="1.1" ry="1.6" fill="#fff" stroke="#111" stroke-width="1.0" transform="rotate(26.6 611.0 600.0)"/>
<path d="M586,607 Q586,601.5 590,601 L606,598.5 Q612.5,598.5 613,603 L613.5,622 L600,626 L588,624 Z" fill="#fff" stroke="#111" stroke-width="1.3"/>
<path d="M592,610 L592,622 M598,612 L598,624" fill="none" stroke="#111" stroke-width="0.9"/>
<path d="M597.5,601 L597.5,606 Q602,609 607,606 L607,601" fill="#fff" stroke="#111" stroke-width="1.3"/>
<ellipse cx="602.3" cy="600.5" rx="4.6" ry="2.9" fill="#111" stroke="#111" stroke-width="1.2"/>
<path d="M598.3,615.3 L609.3,619.8 L612.7,611.2 L601.7,606.7 Z" fill="#fff" stroke="#111" stroke-width="1.3"/>
<ellipse cx="600.0" cy="611.0" rx="2.3" ry="4.6" fill="#fff" stroke="#111" stroke-width="1.2" transform="rotate(22.2 600.0 611.0)"/>
<ellipse cx="611.0" cy="615.5" rx="3.0" ry="4.6" fill="#fff" stroke="#111" stroke-width="2.6" transform="rotate(22.2 611.0 615.5)"/>
<ellipse cx="611.0" cy="615.5" rx="1.4" ry="2.1" fill="#fff" stroke="#111" stroke-width="1.0" transform="rotate(22.2 611.0 615.5)"/>
<path d="M597.1,627.2 L608.1,632.2 L611.9,623.8 L600.9,618.8 Z" fill="#fff" stroke="#111" stroke-width="1.3"/>
<ellipse cx="599.0" cy="623.0" rx="2.3" ry="4.6" fill="#fff" stroke="#111" stroke-width="1.2" transform="rotate(24.4 599.0 623.0)"/>
<ellipse cx="610.0" cy="628.0" rx="3.0" ry="4.6" fill="#fff" stroke="#111" stroke-width="2.6" transform="rotate(24.4 610.0 628.0)"/>
<ellipse cx="610.0" cy="628.0" rx="1.4" ry="2.1" fill="#fff" stroke="#111" stroke-width="1.0" transform="rotate(24.4 610.0 628.0)"/>
<path d="M574.1,614.3 L581.6,619.3 L587.4,610.7 L579.9,605.7 Z" fill="#fff" stroke="#111" stroke-width="1.3"/>
<ellipse cx="577.0" cy="610.0" rx="2.6" ry="5.2" fill="#fff" stroke="#111" stroke-width="1.2" transform="rotate(33.7 577.0 610.0)"/>
<ellipse cx="581.1" cy="612.8" rx="2.2" ry="5.2" fill="none" stroke="#111" stroke-width="3.0" transform="rotate(33.7 581.1 612.8)"/>
<ellipse cx="584.5" cy="615.0" rx="3.4" ry="5.2" fill="#fff" stroke="#111" stroke-width="2.6" transform="rotate(33.7 584.5 615.0)"/>
<ellipse cx="584.5" cy="615.0" rx="1.6" ry="2.3" fill="#fff" stroke="#111" stroke-width="1.0" transform="rotate(33.7 584.5 615.0)"/>
<path d="M567.4,616.1 L560.7,626.6 L569.9,632.4 L576.6,621.9 Z" fill="#fff" stroke="#111" stroke-width="1.3"/>
<ellipse cx="572.0" cy="619.0" rx="2.7" ry="5.4" fill="#fff" stroke="#111" stroke-width="1.2" transform="rotate(122.5 572.0 619.0)"/>
<ellipse cx="568.3" cy="624.8" rx="2.3" ry="5.4" fill="none" stroke="#111" stroke-width="3.0" transform="rotate(122.5 568.3 624.8)"/>
<ellipse cx="565.3" cy="629.5" rx="3.6" ry="5.4" fill="#fff" stroke="#111" stroke-width="2.6" transform="rotate(122.5 565.3 629.5)"/>
<ellipse cx="565.3" cy="629.5" rx="1.6" ry="2.4" fill="#fff" stroke="#111" stroke-width="1.0" transform="rotate(122.5 565.3 629.5)"/>
<path d="M582.3,640.8 L591.3,645.8 L596.7,636.2 L587.7,631.2 Z" fill="#fff" stroke="#111" stroke-width="1.3"/>
<ellipse cx="585.0" cy="636.0" rx="2.8" ry="5.5" fill="#fff" stroke="#111" stroke-width="1.2" transform="rotate(29.1 585.0 636.0)"/>
<ellipse cx="590.0" cy="638.8" rx="2.3" ry="5.5" fill="none" stroke="#111" stroke-width="3.0" transform="rotate(29.1 590.0 638.8)"/>
<ellipse cx="594.0" cy="641.0" rx="3.6" ry="5.5" fill="#fff" stroke="#111" stroke-width="2.4" transform="rotate(29.1 594.0 641.0)"/>
<ellipse cx="594.0" cy="641.0" rx="1.6" ry="2.5" fill="#fff" stroke="#111" stroke-width="1.0" transform="rotate(29.1 594.0 641.0)"/>
<path d="M594.8,638.5 L604.8,645.5 L611.2,636.5 L601.2,629.5 Z" fill="#fff" stroke="#111" stroke-width="1.3"/>
<ellipse cx="598.0" cy="634.0" rx="2.8" ry="5.5" fill="#fff" stroke="#111" stroke-width="1.2" transform="rotate(35.0 598.0 634.0)"/>
<ellipse cx="603.5" cy="637.9" rx="2.3" ry="5.5" fill="none" stroke="#111" stroke-width="3.0" transform="rotate(35.0 603.5 637.9)"/>
<ellipse cx="608.0" cy="641.0" rx="3.6" ry="5.5" fill="#fff" stroke="#111" stroke-width="2.4" transform="rotate(35.0 608.0 641.0)"/>
<ellipse cx="608.0" cy="641.0" rx="1.6" ry="2.5" fill="#fff" stroke="#111" stroke-width="1.0" transform="rotate(35.0 608.0 641.0)"/>
<path d="M504.8,633.6 L504.8,638.6 Q508.3,641.1025000000001 511.8,638.6 L511.8,633.6" fill="#fff" stroke="#111" stroke-width="1.3"/>
<ellipse cx="508.3" cy="633.6" rx="3.5" ry="1.9" fill="#111" stroke="#111" stroke-width="1.4"/>
<ellipse cx="508.3" cy="633.4" rx="1.9" ry="0.9" fill="#666" stroke="#111" stroke-width="0.5"/>
<path d="M504.8,635.85 Q508.3,638.3525000000001 511.8,635.85" fill="none" stroke="#111" stroke-width="2.0"/>
<path d="M529.3,631.3 L518.3,635.3 L521.7,644.7 L532.7,640.7 Z" fill="#fff" stroke="#111" stroke-width="1.3"/>
<ellipse cx="531.0" cy="636.0" rx="2.5" ry="5.0" fill="#fff" stroke="#111" stroke-width="1.2" transform="rotate(160.0 531.0 636.0)"/>
<ellipse cx="525.0" cy="638.2" rx="2.1" ry="5.0" fill="none" stroke="#111" stroke-width="3.0" transform="rotate(160.0 525.0 638.2)"/>
<ellipse cx="520.0" cy="640.0" rx="3.3" ry="5.0" fill="#fff" stroke="#111" stroke-width="2.2" transform="rotate(160.0 520.0 640.0)"/>
<ellipse cx="520.0" cy="640.0" rx="1.5" ry="2.2" fill="#fff" stroke="#111" stroke-width="1.0" transform="rotate(160.0 520.0 640.0)"/>
<path d="M517.8,631.4 L533.2,631.4" fill="none" stroke="#111" stroke-width="1.2"/></g>
<!--VALVEEND-->
</svg>
</body></html>
